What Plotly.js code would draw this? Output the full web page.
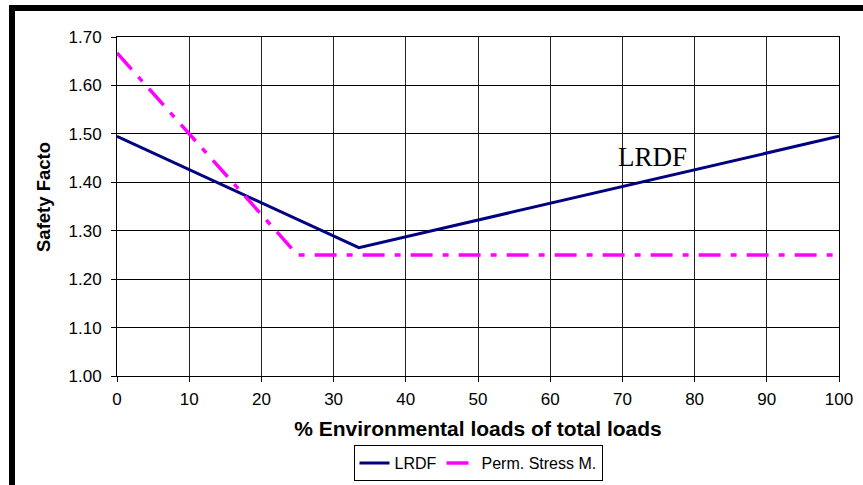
<!DOCTYPE html>
<html>
<head>
<meta charset="utf-8">
<script src="https://cdn.plot.ly/plotly-3.0.1.min.js"></script>
<style>
  html, body { margin: 0; padding: 0; background: #fff; }
  #wrap { position: relative; width: 863px; height: 485px; overflow: hidden; }
  #chart { position: absolute; left: 0; top: 0; width: 863px; height: 485px; }
  #frameTop { position: absolute; left: 9px; top: 5px; width: 860px; height: 6px; background: #000; }
  #frameLeft { position: absolute; left: 9px; top: 5px; width: 6px; height: 490px; background: #000; }
</style>
</head>
<body>
<div id="wrap">
  <div id="chart"></div>
  <div id="frameTop"></div>
  <div id="frameLeft"></div>
</div>
<script>
// Data
const lrdfX = [0, 33.5, 100];
const lrdfY = [1.495, 1.265, 1.495];
const permX = [0, 25, 100];
const permY = [1.667, 1.25, 1.25];
const xTickVals = [0, 10, 20, 30, 40, 50, 60, 70, 80, 90, 100];
const yTickVals = [1.00, 1.10, 1.20, 1.30, 1.40, 1.50, 1.60, 1.70];

const FONT = 'Liberation Sans, Arial, sans-serif';

const traces = [
  {
    x: lrdfX, y: lrdfY, type: 'scatter', mode: 'lines', name: 'LRDF',
    line: { color: '#000080', width: 3 }
  },
  {
    x: permX, y: permY, type: 'scatter', mode: 'lines', name: 'Perm. Stress M.',
    line: { color: '#FF00FF', width: 3.5, dash: '22px,10px,6px,10px' }
  }
];

const layout = {
  width: 863, height: 485,
  margin: { l: 117, r: 24, t: 37, b: 109, pad: 0 },
  paper_bgcolor: '#ffffff', plot_bgcolor: '#ffffff',
  font: { family: FONT, color: '#000', size: 17 },
  showlegend: true,
  legend: {
    orientation: 'h', x: 0.5, xanchor: 'center',
    yref: 'container', y: 1 - 481 / 485, yanchor: 'bottom',
    bordercolor: '#000', borderwidth: 1, bgcolor: '#fff',
    font: { family: FONT, size: 16, color: '#000' },
    itemwidth: 30, tracegroupgap: 0
  },
  xaxis: {
    range: [0, 100], tickvals: xTickVals, ticktext: xTickVals.map(String),
    showgrid: true, gridcolor: '#222', gridwidth: 1,
    showline: true, linecolor: '#000', linewidth: 1, mirror: true,
    ticks: 'outside', ticklen: 5, tickcolor: '#000', tickwidth: 1,
    ticklabelstandoff: 3,
    zeroline: false, automargin: false,
    tickfont: { size: 17 },
    title: { text: '% Environmental loads of total loads', standoff: 12,
             font: { size: 21, family: FONT, weight: 'bold' } }
  },
  yaxis: {
    range: [1.0, 1.7], tickvals: yTickVals, ticktext: yTickVals.map(v => v.toFixed(2)),
    showgrid: true, gridcolor: '#000', gridwidth: 1,
    showline: true, linecolor: '#000', linewidth: 1, mirror: true,
    ticks: 'outside', ticklen: 5, tickcolor: '#000', tickwidth: 1,
    ticklabelstandoff: 6,
    zeroline: false, automargin: false,
    tickfont: { size: 17 }
  },
  annotations: [
    {
      x: 74.2, y: 1.4515, xref: 'x', yref: 'y', text: 'LRDF', showarrow: false,
      font: { family: 'Liberation Serif, Times New Roman, serif', size: 27, color: '#000' },
      xanchor: 'center', yanchor: 'middle'
    },
    {
      x: (43 - 117) / 722, y: (376 - 197) / 339, xref: 'paper', yref: 'paper',
      text: '<b>Safety Facto</b>', showarrow: false, textangle: -90,
      font: { family: FONT, size: 18.5, color: '#000' },
      xanchor: 'center', yanchor: 'middle'
    }
  ]
};

Plotly.newPlot('chart', traces, layout, { displayModeBar: false, staticPlot: true });
</script>
</body>
</html>
